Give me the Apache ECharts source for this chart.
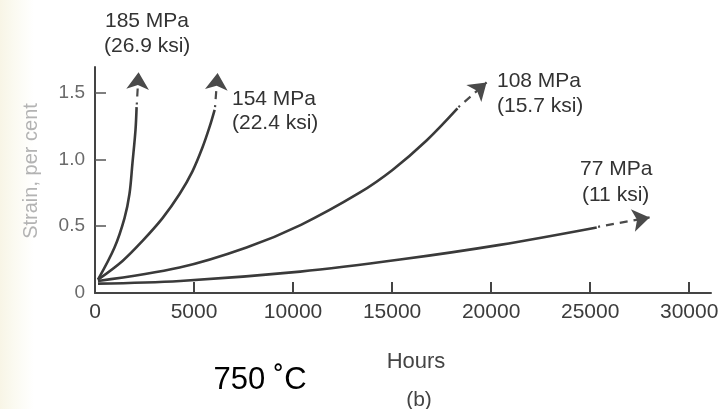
<!DOCTYPE html>
<html>
<head>
<meta charset="utf-8">
<script src="https://cdn.jsdelivr.net/npm/echarts@6/dist/echarts.min.js"></script>
<style>
html,body{margin:0;padding:0;}
#c{width:727px;height:409px;background:linear-gradient(to right,#f8f5e6 0px,#fbfaf1 14px,#ffffff 34px);}
</style>
</head>
<body>
<div id="c"></div>
<script>
// Creep curves at 750 °C — strain (%) vs hours
var xTicks = [0, 5000, 10000, 15000, 20000, 25000, 30000];
var yTicks = [0, 0.5, 1.0, 1.5];

var s185 = [[150,0.10],[985,0.34],[1490,0.56],[1740,0.74],[1890,0.97],[2045,1.22],[2100,1.39]];
var s154 = [[150,0.10],[1390,0.24],[2400,0.39],[3410,0.56],[4270,0.74],[4920,0.91],[5430,1.09],[5780,1.24],[6040,1.37]];
var s108 = [[150,0.09],[4270,0.19],[7650,0.34],[10400,0.51],[13360,0.75],[15020,0.92],[16740,1.14],[18300,1.38]];
var s77  = [[150,0.07],[4300,0.09],[10360,0.16],[15400,0.25],[20440,0.36],[25330,0.49]];

// dashed continuation: [last solid point, arrow tip]
var a185 = [[2110,1.41],[2200,1.65]];
var a154 = [[6060,1.39],[6190,1.645]];
var a108 = [[18350,1.39],[19770,1.575]];
var a77  = [[25400,0.495],[28000,0.565]];

var labels = [
  {text:'185 MPa', x:105, y:22},
  {text:'(26.9 ksi)', x:104, y:47},
  {text:'154 MPa', x:232, y:100},
  {text:'(22.4 ksi)', x:232, y:124},
  {text:'108 MPa', x:497, y:82},
  {text:'(15.7 ksi)', x:497, y:107},
  {text:'77 MPa', x:580, y:170},
  {text:'(11 ksi)', x:582, y:196}
];

var FONT = '"Liberation Sans", Arial, sans-serif';
var LC = '#3a3a3a';

function curve(d){
  return {type:'line', data:d, smooth:0.35, symbol:'none', silent:true,
    lineStyle:{color:LC, width:2.6}};
}
function arrow(d){
  return {type:'lines', coordinateSystem:'cartesian2d', silent:true,
    symbol:['none','arrow'], symbolSize:[10,17],
    lineStyle:{color:'#4a4a4a', width:2.2, type:[8,6], dashOffset:6, opacity:1, curveness:0},
    data:[{coords:d}]};
}

var graphics = labels.map(function(l){
  return {type:'text', left:l.x, top:l.y-11, silent:true,
    style:{text:l.text, font:'21px '+FONT, fill:'#333'}};
});
graphics.push({type:'text', x:31, y:171, rotation:Math.PI/2, silent:true,
  style:{text:'Strain, per cent', font:'20px '+FONT, fill:'#b3b3b3', align:'center', verticalAlign:'middle'}});
graphics.push({type:'text', x:416, y:362, silent:true,
  style:{text:'Hours', font:'22px '+FONT, fill:'#444', align:'center', verticalAlign:'middle'}});
graphics.push({type:'text', x:260, y:380, silent:true,
  style:{text:'750 ˚C', font:'31px '+FONT, fill:'#000', align:'center', verticalAlign:'middle'}});
graphics.push({type:'text', x:419, y:400, silent:true,
  style:{text:'(b)', font:'21px '+FONT, fill:'#444', align:'center', verticalAlign:'middle'}});

var chart = echarts.init(document.getElementById('c'), null, {renderer:'canvas'});
chart.setOption({
  backgroundColor:'transparent',
  animation:false,
  grid:{left:95, right:16, top:67, bottom:116, containLabel:false},
  xAxis:{type:'value', min:0, max:31100,
    axisLine:{show:true, lineStyle:{color:'#444', width:2}},
    axisTick:{show:true, inside:true, length:11, lineStyle:{color:'#444', width:2},
      customValues:xTicks.slice(1)},
    axisLabel:{customValues:xTicks, fontSize:21, fontFamily:FONT, color:'#3c3c3c', margin:9,
      formatter:function(v){return xTicks.indexOf(v)>=0 ? String(v) : '';}},
    splitLine:{show:false}},
  yAxis:{type:'value', min:0, max:1.69,
    axisLine:{show:true, lineStyle:{color:'#444', width:2}},
    axisTick:{show:true, inside:true, length:11, lineStyle:{color:'#555', width:1.5},
      customValues:yTicks.slice(1)},
    axisLabel:{customValues:yTicks, fontSize:19, fontFamily:FONT, color:'#6a6a6a', margin:10,
      formatter:function(v){return v===0 ? '0' : v.toFixed(1);}},
    splitLine:{show:false}},
  graphic:graphics,
  series:[curve(s185), curve(s154), curve(s108), curve(s77),
          arrow(a185), arrow(a154), arrow(a108), arrow(a77)]
});
</script>
</body>
</html>
